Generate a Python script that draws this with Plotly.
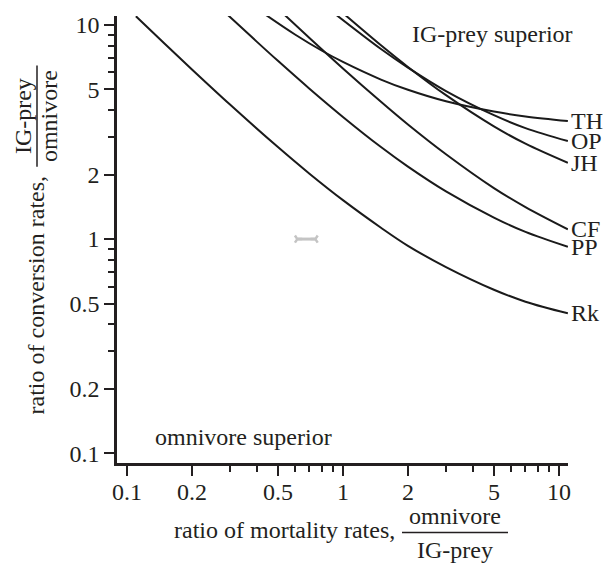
import math
import plotly.graph_objects as go

# ---- axis ticks ----
tick_vals = [0.1, 0.2, 0.5, 1, 2, 5, 10]
tick_text = ["0.1", "0.2", "0.5", "1", "2", "5", "10"]
minor_vals = [0.3, 0.4, 0.6, 0.7, 0.8, 0.9, 3, 4, 6, 7, 8, 9]

# ---- curves (ratio of mortality rates -> ratio of conversion rates) ----
th_x = [0.44, 0.6, 0.8, 1.0, 1.5, 2.0, 3.0, 5.0, 7.0, 11.0]
th_y = [11.14, 9.03, 7.58, 6.72, 5.56, 4.98, 4.40, 3.94, 3.74, 3.56]

op_x = [0.93, 1.5, 2.0, 3.0, 5.0, 7.0, 11.0]
op_y = [11.16, 7.72, 6.32, 4.91, 3.79, 3.30, 2.87]

jh_x = [1.02, 1.5, 2.0, 3.0, 5.0, 7.0, 11.0]
jh_y = [11.18, 8.04, 6.37, 4.70, 3.36, 2.79, 2.27]

cf_x = [0.53, 0.7, 1.0, 1.5, 2.0, 3.0, 5.0, 7.0, 11.0]
cf_y = [11.29, 8.70, 6.27, 4.38, 3.43, 2.49, 1.73, 1.41, 1.11]

pp_x = [0.29, 0.4, 0.5, 0.7, 1.0, 1.5, 2.0, 3.0, 5.0, 7.0, 11.0]
pp_y = [11.25, 8.34, 6.80, 5.04, 3.72, 2.69, 2.18, 1.67, 1.26, 1.08, 0.92]

rk_x = [0.11, 0.15, 0.2, 0.3, 0.5, 0.7, 1.0, 1.5, 2.0, 3.0, 5.0, 7.0, 11.0]
rk_y = [10.99, 8.15, 6.20, 4.25, 2.69, 2.02, 1.52, 1.13, 0.93, 0.74, 0.58, 0.51, 0.45]

series_names = ["TH", "OP", "JH", "CF", "PP", "Rk"]
series_x = [th_x, op_x, jh_x, cf_x, pp_x, rk_x]
series_y = [th_y, op_y, jh_y, cf_y, pp_y, rk_y]

# ---- grey estimate marker (horizontal range at conversion ratio 1) ----
est_x = [0.615, 0.745]
est_y = [1.0, 1.0]

region_labels = ["IG-prey superior", "omnivore superior"]

FONT = "Liberation Serif, Times New Roman, serif"
TXT = "#231f20"
W, H = 603, 564
L, R, T, B = 117, 35, 12, 101
PW, PH = W - L - R, H - T - B


def pp_(xp, yp):
    return (xp - L) / PW, (T + PH - yp) / PH


fig = go.Figure()

for name, xs, ys in zip(series_names, series_x, series_y):
    fig.add_trace(go.Scatter(
        x=xs, y=ys, mode="lines",
        line=dict(color="#1a1a1a", width=2, shape="spline", smoothing=1.0),
        showlegend=False, hoverinfo="skip"))
    fig.add_annotation(
        x=1, xref="paper", y=math.log10(ys[-1]), yref="y",
        text=name, showarrow=False, xanchor="left", yanchor="middle",
        xshift=1, font=dict(family=FONT, size=24, color=TXT))

fig.add_trace(go.Scatter(
    x=est_x, y=est_y, mode="lines+markers",
    line=dict(color="#c4c4c4", width=3),
    marker=dict(symbol=["y-right", "y-left"], size=6,
                line=dict(color="#c4c4c4", width=2.5), color="#c4c4c4"),
    showlegend=False, hoverinfo="skip"))

axis_common = dict(
    type="log", range=[-1.046, 1.042],
    tickmode="array", tickvals=tick_vals, ticktext=tick_text,
    ticks="outside", ticklen=10, tickwidth=2, tickcolor="#231f20",
    showline=True, linecolor="#231f20", linewidth=2.5,
    showgrid=False, zeroline=False, mirror=False,
    tickfont=dict(family=FONT, size=24, color=TXT),
    minor=dict(tickmode="array", tickvals=minor_vals, ticks="outside",
               ticklen=6, tickwidth=2, tickcolor="#231f20", showgrid=False),
)

fig.update_xaxes(**axis_common, ticklabelstandoff=-5)
fig.update_yaxes(**axis_common)

ann_font = dict(family=FONT, size=24, color=TXT)

# region labels
x0, y0 = pp_(492, 30)
fig.add_annotation(x=x0, y=y0, xref="paper", yref="paper", text=region_labels[0],
                   showarrow=False, xanchor="center", yanchor="middle", font=ann_font)
x0, y0 = pp_(243, 437)
fig.add_annotation(x=x0, y=y0, xref="paper", yref="paper", text=region_labels[1],
                   showarrow=False, xanchor="center", yanchor="middle", font=ann_font)

# x-axis title with fraction
x0, y0 = pp_(284, 531)
fig.add_annotation(x=x0, y=y0, xref="paper", yref="paper", text="ratio of mortality rates,",
                   showarrow=False, xanchor="center", yanchor="middle", font=ann_font)
x0, y0 = pp_(455, 516)
fig.add_annotation(x=x0, y=y0, xref="paper", yref="paper", text="omnivore",
                   showarrow=False, xanchor="center", yanchor="middle", font=ann_font)
x0, y0 = pp_(455, 551)
fig.add_annotation(x=x0, y=y0, xref="paper", yref="paper", text="IG-prey",
                   showarrow=False, xanchor="center", yanchor="middle", font=ann_font)
a0, b0 = pp_(402, 533)
a1, b1 = pp_(508, 533)
fig.add_shape(type="line", xref="paper", yref="paper", x0=a0, y0=b0, x1=a1, y1=b1,
              line=dict(color=TXT, width=1.5))

# y-axis title with fraction (rotated)
x0, y0 = pp_(36, 294)
fig.add_annotation(x=x0, y=y0, xref="paper", yref="paper", text="ratio of conversion rates,",
                   showarrow=False, xanchor="center", yanchor="middle", textangle=-90, font=ann_font)
x0, y0 = pp_(23, 113)
fig.add_annotation(x=x0, y=y0, xref="paper", yref="paper", text="IG-prey",
                   showarrow=False, xanchor="center", yanchor="middle", textangle=-90, font=ann_font)
x0, y0 = pp_(49, 113)
fig.add_annotation(x=x0, y=y0, xref="paper", yref="paper", text="omnivore",
                   showarrow=False, xanchor="center", yanchor="middle", textangle=-90, font=ann_font)
a0, b0 = pp_(37, 62)
a1, b1 = pp_(37, 164)
fig.add_shape(type="line", xref="paper", yref="paper", x0=a0, y0=b0, x1=a1, y1=b1,
              line=dict(color=TXT, width=1.5))

fig.update_layout(
    width=W, height=H,
    margin=dict(l=L, r=R, t=T, b=B, pad=0),
    paper_bgcolor="white", plot_bgcolor="white",
    showlegend=False,
    font=dict(family=FONT, size=24, color=TXT),
)

fig.write_html("out.html")
